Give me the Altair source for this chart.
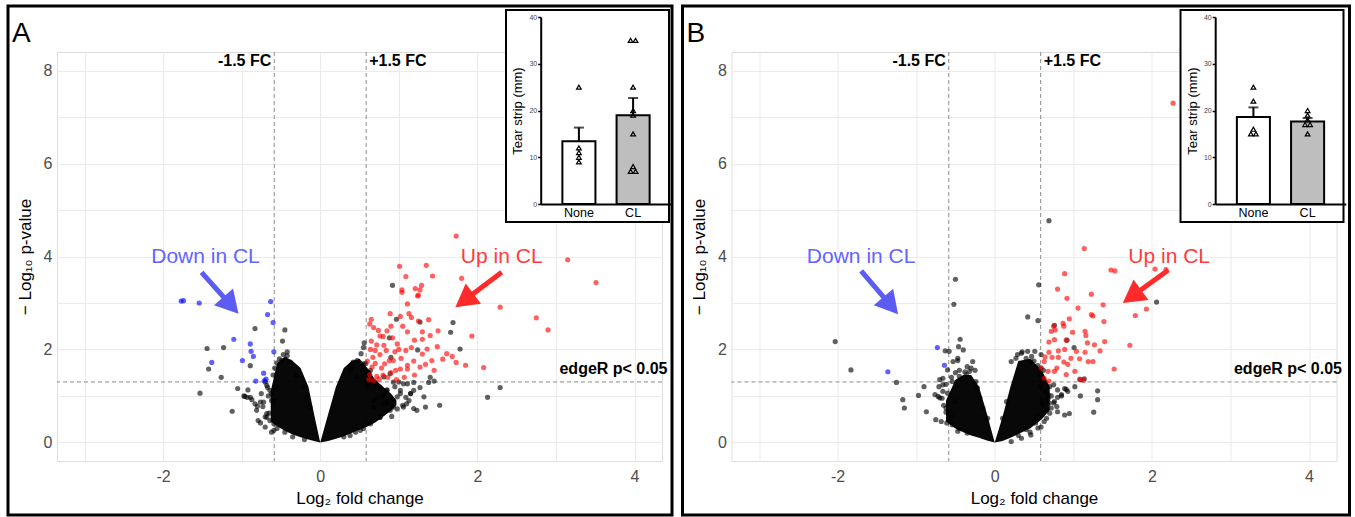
import math
import altair as alt
import pandas as pd

# ---------------- shared plot settings ----------------
W, H = 605, 409
XDOM = [-3.35, 4.35]
YDOM = [-0.4, 8.4]
FC_LINES = [-0.585, 0.585]
P_LINE = [1.301]
FONT = "Liberation Sans"

# ---------------- Panel A data ----------------
A_BLACK = [
    (-0.83, 2.45), (-0.45, 2.42), (-0.48, 2.18), (-1.44, 2.02), (-1.23, 2.04), (-1.42, 1.58),
    (-0.89, 1.65), (-1.26, 1.40), (-1.53, 1.06), (-1.05, 1.16), (-0.92, 1.13), (-1.12, 0.67),
    (-0.76, 0.42), (-0.96, 0.99), (-0.89, 0.97), (-0.76, 0.87), (-0.73, 0.77), (-0.65, 0.63),
    (-0.87, 0.92), (-0.47, 1.89), (-0.55, 1.71), (-0.64, 1.12), (-0.68, 1.23), (-0.83, 0.83),
    (-0.93, 0.97), (-0.97, 1.00), (-0.72, 0.87), (-0.68, 0.62), (-0.64, 0.47), (-0.67, 1.18),
    (-0.70, 1.30), (-0.81, 0.69), (-0.59, 0.26), (-0.60, 1.45), (-0.58, 1.60), (-0.52, 1.80),
    (-0.42, 1.95), (-0.62, 0.90), (-0.66, 1.00), (-0.75, 1.05), (-0.80, 0.78), (-0.70, 0.55),
    (-0.55, 0.30), (-0.45, 0.22), (-0.35, 0.12), (-0.20, 0.06),
    (-0.79, 0.47), (-0.70, 0.33), (-0.62, 0.22), (-0.68, 0.54), (-0.59, 0.40), (-0.62, 1.05),
    (-0.59, 0.90), (-0.57, 1.19), (-0.55, 1.48), (-0.49, 1.76), (-0.42, 1.87), (-0.38, 1.73),
    (-0.30, 1.44), (-0.21, 1.19), (-0.17, 0.97), (-0.13, 0.76),
    (0.92, 3.38), (1.69, 2.58), (1.66, 2.37), (1.78, 2.01), (1.27, 2.59), (0.97, 2.65),
    (0.88, 2.25), (0.90, 1.83), (1.24, 1.99), (2.29, 1.18), (2.13, 0.97), (1.52, 0.80),
    (1.34, 0.76), (1.19, 0.73), (1.13, 0.90), (1.27, 1.18), (1.40, 1.40), (1.45, 1.32),
    (1.38, 1.29), (1.19, 1.29), (1.11, 1.26), (0.91, 0.56), (0.76, 0.54), (0.56, 2.14),
    (0.55, 2.04), (0.89, 1.48), (0.40, 1.61), (0.47, 1.76), (0.52, 1.91), (0.85, 1.13),
    (1.02, 1.05), (1.09, 0.97), (0.93, 0.90), (0.68, 0.76), (0.60, 1.20), (0.70, 1.30),
    (0.75, 1.20), (0.80, 1.00), (0.85, 0.85), (0.95, 1.20), (1.00, 1.30), (0.65, 0.45),
    (0.55, 0.30), (0.45, 0.22), (0.30, 0.12), (0.72, 0.95), (0.62, 1.50), (0.58, 1.70),
    (1.05, 0.80), (1.15, 1.05), (0.98, 0.72),
    (0.38, 1.55), (0.47, 1.41), (0.59, 1.30), (0.72, 1.23), (0.85, 1.12), (0.98, 0.98),
    (1.10, 0.83), (1.23, 0.69), (0.89, 0.69), (0.76, 0.54), (0.64, 0.40), (0.51, 0.26),
    (0.38, 0.15), (1.06, 1.26), (1.19, 1.12), (1.32, 0.98), (0.81, 1.41), (0.93, 1.30),
    (0.64, 1.55), (0.55, 1.69), (0.42, 1.73), (1.06, 0.76), (0.68, 0.90), (0.81, 0.83),
    (0.93, 0.76), (1.15, 1.05), (1.02, 1.12),
]
A_RED = [
    (1.01, 3.79), (1.35, 3.81), (1.43, 3.58), (1.80, 3.53), (3.15, 3.93), (3.51, 3.44),
    (2.29, 2.91), (2.75, 2.68), (2.90, 2.42), (1.93, 2.29), (2.08, 1.61), (1.85, 1.66),
    (1.73, 1.72), (1.68, 1.85), (1.61, 1.91), (1.56, 1.79), (1.49, 2.06), (1.38, 2.64),
    (1.42, 1.76), (1.36, 2.01), (1.34, 1.68), (1.27, 1.62), (1.30, 2.38), (1.30, 2.22),
    (1.25, 2.61), (1.13, 2.77), (1.29, 3.38), (1.21, 3.31), (1.27, 3.28), (1.25, 3.17),
    (1.11, 2.98), (1.04, 3.23), (0.89, 2.77), (1.02, 2.71), (1.11, 2.38), (1.16, 2.04),
    (1.11, 1.66), (1.03, 1.81), (0.98, 2.12), (0.92, 2.25), (0.80, 2.28), (0.65, 2.65),
    (0.63, 2.55), (0.68, 2.47), (0.65, 2.18), (0.70, 1.98), (0.76, 1.89), (0.82, 1.69),
    (0.88, 1.76), (0.66, 1.62), (0.63, 1.46), (0.72, 1.42), (0.84, 1.98), (0.93, 1.76),
    (1.09, 1.98), (1.19, 1.75), (1.02, 1.58), (0.76, 2.29), (0.74, 2.41), (1.11, 1.58),
    (0.96, 1.55), (0.67, 1.83), (0.81, 2.09), (1.16, 2.69), (1.73, 4.44), (1.09, 3.57),
    (1.04, 3.28), (1.24, 3.15), (0.62, 1.35), (0.68, 1.33), (0.75, 1.36), (0.80, 1.45),
    (0.86, 1.40), (0.90, 1.50), (0.70, 1.70), (0.78, 1.60), (0.60, 1.75), (0.64, 2.00),
    (0.72, 2.10), (0.95, 1.95), (1.00, 2.00), (0.85, 2.40), (0.90, 2.50), (1.05, 2.50),
    (1.20, 2.20), (1.40, 2.30), (1.50, 2.40), (0.97, 1.35), (1.07, 1.40), (1.20, 1.45),
    (1.30, 1.90), (1.45, 1.55),
]
A_BLUE = [
    (-1.77, 3.04), (-1.74, 3.05), (-1.54, 3.00), (-0.63, 3.03), (-0.67, 2.75), (-0.60, 2.58),
    (-1.10, 2.22), (-0.89, 2.12), (-0.88, 1.96), (-0.85, 1.85), (-0.59, 1.95), (-1.38, 1.72),
    (-0.99, 1.76), (-0.72, 1.49), (-0.82, 1.32), (-0.71, 1.33), (-0.69, 1.36),
]
# dense core of the cloud (outline of the solid black V): x, lower, upper
A_CORE_L_X = [-0.63, -0.55, -0.45, -0.35, -0.25, -0.15, -0.08, 0.0]
A_CORE_L_LO = [0.45, 0.35, 0.25, 0.17, 0.11, 0.06, 0.03, 0.0]
A_CORE_L_HI = [1.10, 1.70, 1.85, 1.75, 1.60, 1.20, 0.62, 0.0]
A_CORE_R_X = [0.0, 0.1, 0.2, 0.3, 0.4, 0.5, 0.6, 0.7, 0.8, 0.9, 0.97]
A_CORE_R_LO = [0.0, 0.03, 0.08, 0.13, 0.20, 0.27, 0.34, 0.43, 0.55, 0.68, 0.80]
A_CORE_R_HI = [0.0, 0.60, 1.20, 1.60, 1.75, 1.80, 1.60, 1.35, 1.20, 1.05, 0.90]
A_TEXT_DOWN = (-1.46, 3.98)
A_TEXT_UP = (2.31, 3.98)
A_ARROW_DOWN = (-1.51, 3.66, -1.04, 2.77)
A_ARROW_UP = (2.31, 3.66, 1.72, 2.91)
A_INSET_NONE = [25, 12, 11, 10, 9]
A_INSET_CL = [35, 35, 25, 20, 19, 15, 8, 7, 7]

# ---------------- Panel B data ----------------
B_BLACK = [
    (-2.03, 2.17), (-1.83, 1.56), (-1.25, 1.29), (-1.17, 0.92), (-1.15, 0.74), (-0.97, 1.01),
    (-0.90, 1.20), (-0.87, 0.66), (-0.75, 0.49), (-0.68, 0.45), (-0.50, 3.51), (-0.52, 2.97),
    (-0.44, 2.22), (-0.46, 2.06), (-0.40, 1.99), (-0.58, 1.96), (-0.63, 1.97), (-0.53, 1.74),
    (-0.47, 1.76), (-0.60, 1.56), (-0.70, 1.35), (-0.71, 1.20), (-0.66, 1.10), (-0.72, 0.99),
    (-0.67, 0.95), (-0.58, 0.67), (-0.61, 0.42), (-0.28, 1.74), (-0.35, 1.63), (-0.76, 1.03),
    (-0.47, 1.81), (-0.55, 1.40), (-0.50, 1.50), (-0.62, 1.25), (-0.45, 1.55), (-0.38, 1.52),
    (-0.30, 1.60), (-0.65, 0.80), (-0.55, 0.55), (-0.45, 0.30), (-0.35, 0.20), (-0.62, 0.65),
    (-0.25, 1.55),
    (-0.66, 1.24), (-0.70, 0.96), (-0.62, 0.74), (-0.58, 0.52), (-0.54, 0.38), (-0.47, 0.24),
    (-0.66, 1.38), (-0.54, 1.31), (-0.45, 1.42), (-0.36, 1.46), (-0.32, 1.53), (-0.24, 1.31),
    (-0.22, 1.17), (-0.19, 0.96), (-0.15, 0.74), (-0.09, 0.52), (-0.60, 1.06), (-0.51, 0.88),
    (0.56, 3.39), (0.42, 2.70), (0.55, 2.62), (0.76, 2.52), (2.06, 3.02), (1.01, 2.04),
    (0.92, 2.20), (1.09, 1.35), (1.14, 1.37), (1.31, 1.11), (1.31, 0.92), (1.09, 1.00),
    (1.26, 0.65), (1.02, 1.20), (0.91, 1.14), (0.89, 1.16), (0.80, 0.97), (0.95, 0.62),
    (0.89, 0.59), (0.79, 0.77), (0.68, 0.95), (0.69, 0.85), (0.75, 1.24), (0.80, 1.13),
    (0.63, 0.45), (0.59, 0.33), (0.51, 0.48), (0.45, 0.22), (0.62, 1.30), (0.58, 1.46),
    (0.42, 1.96), (0.47, 1.85), (0.34, 1.92), (0.27, 1.81), (0.69, 4.77), (0.65, 1.10),
    (0.70, 1.20), (0.72, 1.00), (0.60, 0.90), (0.66, 0.70), (0.75, 0.85), (0.85, 1.00),
    (0.55, 1.65), (0.50, 1.75), (0.62, 1.55), (0.30, 0.15), (0.40, 0.28), (0.52, 0.42),
    (0.35, 1.95), (0.58, 1.20),
    (0.21, 1.74), (0.29, 1.89), (0.46, 1.74), (0.59, 1.60), (0.63, 1.31), (0.68, 1.03),
    (0.72, 0.74), (0.66, 0.52), (0.55, 0.31), (0.46, 0.16), (0.34, 0.09), (0.21, 0.02),
    (0.15, 0.88), (0.10, 0.52), (0.59, 1.89), (0.51, 1.96), (0.40, 1.81), (0.61, 0.81),
    (0.70, 0.63), (0.76, 0.88), (0.85, 1.03), (0.93, 1.10), (0.80, 0.66), (0.55, 0.59),
]
B_RED = [
    (0.89, 3.63), (0.80, 3.30), (0.92, 3.10), (1.23, 3.19), (1.48, 3.71), (1.53, 3.69),
    (1.38, 2.96), (1.23, 2.75), (1.25, 2.72), (1.06, 2.89), (1.79, 2.73), (1.93, 2.87),
    (1.39, 2.60), (0.87, 2.56), (0.88, 2.50), (0.77, 2.42), (0.72, 2.39), (0.99, 2.37),
    (1.15, 2.39), (1.16, 2.30), (1.40, 2.17), (1.72, 2.09), (1.18, 2.14), (1.27, 2.10),
    (1.34, 1.97), (1.15, 1.94), (1.52, 1.58), (0.91, 2.20), (0.76, 2.21), (0.69, 2.16),
    (0.81, 1.97), (0.89, 2.00), (0.69, 1.94), (0.64, 1.84), (0.73, 1.83), (0.81, 1.83),
    (0.97, 1.81), (1.04, 1.96), (1.08, 1.80), (1.25, 1.74), (1.19, 1.74), (0.88, 1.73),
    (0.93, 1.68), (0.79, 1.60), (0.59, 1.60), (0.63, 1.74), (0.68, 1.53), (0.76, 1.53),
    (0.91, 1.46), (0.63, 1.38), (1.13, 1.34), (1.08, 1.36), (1.02, 1.53), (0.69, 1.32),
    (2.27, 7.30), (1.14, 4.17), (2.04, 3.73), (2.18, 3.72), (0.75, 2.50), (0.95, 2.66),
]
B_BLUE = [(-0.73, 2.04), (-0.64, 1.66), (-1.36, 1.52)]
B_CORE_L_X = [-0.62, -0.5, -0.4, -0.3, -0.2, -0.1, 0.0]
B_CORE_L_LO = [0.45, 0.30, 0.22, 0.15, 0.10, 0.04, 0.0]
B_CORE_L_HI = [0.90, 1.35, 1.45, 1.45, 1.20, 0.62, 0.0]
B_CORE_R_X = [0.0, 0.1, 0.2, 0.3, 0.45, 0.6, 0.7]
B_CORE_R_LO = [0.0, 0.03, 0.10, 0.18, 0.30, 0.50, 0.70]
B_CORE_R_HI = [0.0, 0.55, 1.20, 1.75, 1.80, 1.55, 1.20]
B_TEXT_DOWN = (-1.70, 3.98)
B_TEXT_UP = (2.22, 3.98)
B_ARROW_DOWN = (-1.70, 3.69, -1.23, 2.76)
B_ARROW_UP = (2.21, 3.71, 1.63, 3.00)
B_INSET_NONE = [25, 22, 16, 15, 15]
B_INSET_CL = [20, 19, 18, 17, 17, 15]

GROUPS = ["None", "CL"]
HEAD = "M0,0 L-0.85,1.5 L0.85,1.5 Z"
BLUE_TXT, RED_TXT = "#6464FF", "#FF3B3B"
BLUE_ARR, RED_ARR = "#5C5CF2", "#FF2B2B"

SX = W / (XDOM[1] - XDOM[0])
SY = H / (YDOM[1] - YDOM[0])

# inset band geometry (pixel range inside the plot area)
IX_RANGE = [483.7, 614.3]
I_PAD_IN, I_PAD_OUT = 0.39, 0.40
I_STEP = (IX_RANGE[1] - IX_RANGE[0]) / (len(GROUPS) - I_PAD_IN + 2 * I_PAD_OUT)
I_BW = I_STEP * (1 - I_PAD_IN)


def arrow_frame(arrow):
    x1, y1, x2, y2 = arrow
    dxp = (x2 - x1) * SX
    dyp = -(y2 - y1) * SY
    L = math.hypot(dxp, dyp)
    ux, uy = dxp / L, dyp / L
    back = 14
    ex = x2 - back * ux / SX
    ey = y2 + back * uy / SY
    ang = math.degrees(math.atan2(dxp, -dyp)) % 360
    return pd.DataFrame({"x": [x1], "y": [y1], "ex": [ex], "ey": [ey],
                         "tx": [x2], "ty": [y2], "ang": [ang]})


def panel(letter, black, red, blue, core_l, core_r, t_down, t_up, a_down, a_up,
          inset_none, inset_cl, frame_right):
    xs = alt.Scale(domain=XDOM, nice=False, zero=False)
    ys = alt.Scale(domain=YDOM, nice=False, zero=False)
    xaxis = alt.Axis(values=list(range(-3, 5)),
                     labelExpr="datum.value % 2 == 0 ? toString(datum.value) : ''",
                     grid=True, gridColor="#EBEBEB", gridWidth=1, ticks=False, domain=False,
                     labelFontSize=16, labelColor="#4D4D4D", labelPadding=7,
                     title="Log₂ fold change", titleFontSize=17, titleFontWeight="normal",
                     titleColor="black", titlePadding=6, labelFont=FONT, titleFont=FONT)
    yaxis = alt.Axis(values=list(range(0, 9)),
                     labelExpr="datum.value % 2 == 0 ? toString(datum.value) : ''",
                     grid=True, gridColor="#EBEBEB", gridWidth=1, ticks=False, domain=False,
                     labelFontSize=16, labelColor="#4D4D4D", labelPadding=5,
                     minExtent=14, maxExtent=14,
                     title="− Log₁₀ p-value", titleFontSize=17, titleFontWeight="normal",
                     titleColor="black", titlePadding=9, labelFont=FONT, titleFont=FONT)

    def X(f):
        return alt.X(f + ":Q", scale=xs, axis=xaxis)

    def Y(f):
        return alt.Y(f + ":Q", scale=ys, axis=yaxis)

    pts = pd.DataFrame(
        [(x, y, "ns") for x, y in black]
        + [(x, y, "up") for x, y in red]
        + [(x, y, "down") for x, y in blue],
        columns=["x", "y", "cat"])
    core = pd.DataFrame(
        [(x, lo, hi, "L") for x, lo, hi in zip(*core_l)]
        + [(x, lo, hi, "R") for x, lo, hi in zip(*core_r)],
        columns=["x", "lo", "hi", "side"])

    one = pd.DataFrame({"a": [0]})
    dash = dict(color="#8C8C8C", strokeDash=[4, 3], strokeWidth=1)

    vrules = alt.Chart(pd.DataFrame({"x": FC_LINES})).mark_rule(**dash).encode(x=X("x"))
    hrule = alt.Chart(pd.DataFrame({"y": P_LINE})).mark_rule(**dash).encode(y=Y("y"))
    core_area = alt.Chart(core).mark_area(color="black", opacity=0.97).encode(
        x=X("x"), y=Y("hi"), y2=alt.Y2("lo"), detail="side:N")
    points = alt.Chart(pts).mark_circle(size=27, opacity=0.62).encode(
        x=X("x"), y=Y("y"),
        color=alt.Color("cat:N", scale=alt.Scale(domain=["ns", "up", "down"],
                                                 range=["#000000", "#FF0000", "#0000FF"]),
                        legend=None))

    bold = dict(fontWeight="bold", fontSize=16, color="black", baseline="middle", font=FONT)
    t_m = alt.Chart(pd.DataFrame({"x": [FC_LINES[0]], "y": [8.2], "t": ["-1.5 FC"]})).mark_text(
        align="right", dx=-3, **bold).encode(x=X("x"), y=Y("y"), text="t:N")
    t_p = alt.Chart(pd.DataFrame({"x": [FC_LINES[1]], "y": [8.2], "t": ["+1.5 FC"]})).mark_text(
        align="left", dx=3, **bold).encode(x=X("x"), y=Y("y"), text="t:N")
    t_e = alt.Chart(pd.DataFrame({"x": [4.42], "y": [1.57], "t": ["edgeR p< 0.05"]})).mark_text(
        align="right", **bold).encode(x=X("x"), y=Y("y"), text="t:N")

    big = dict(fontSize=21, align="center", baseline="middle", font=FONT)
    t_down = alt.Chart(pd.DataFrame({"x": [t_down[0]], "y": [t_down[1]], "t": ["Down in CL"]})).mark_text(
        color=BLUE_TXT, **big).encode(x=X("x"), y=Y("y"), text="t:N")
    t_up = alt.Chart(pd.DataFrame({"x": [t_up[0]], "y": [t_up[1]], "t": ["Up in CL"]})).mark_text(
        color=RED_TXT, **big).encode(x=X("x"), y=Y("y"), text="t:N")

    arrows = []
    for arr, col in ((a_down, BLUE_ARR), (a_up, RED_ARR)):
        df = arrow_frame(arr)
        arrows.append(alt.Chart(df).mark_rule(color=col, strokeWidth=5).encode(
            x=X("x"), y=Y("y"), x2=alt.X2("ex"), y2=alt.Y2("ey")))
        arrows.append(alt.Chart(df).mark_point(shape=HEAD, filled=True, size=900, opacity=1,
                                               color=col, strokeWidth=0).encode(
            x=X("tx"), y=Y("ty"), angle=alt.Angle("ang:Q", scale=None)))

    frame = alt.Chart(one).mark_rect(fillOpacity=0, stroke="black", strokeWidth=3).encode(
        x=alt.value(-49), x2=alt.value(frame_right), y=alt.value(-46), y2=alt.value(463))
    letter_t = alt.Chart(one).mark_text(text=letter, fontSize=28, align="left",
                                        baseline="alphabetic", color="black", font=FONT).encode(
        x=alt.value(-45), y=alt.value(-10))
    inset_box = alt.Chart(one).mark_rect(fill="white", stroke="black", strokeWidth=2).encode(
        x=alt.value(449), x2=alt.value(612), y=alt.value(-42), y2=alt.value(170))

    volcano = alt.layer(vrules, hrule, core_area, points, t_m, t_p, t_e, t_down, t_up,
                        *arrows, frame, letter_t, inset_box)

    # ---------------- inset bar chart ----------------
    idf = pd.DataFrame({"grp": ["None"] * len(inset_none) + ["CL"] * len(inset_cl),
                        "v": inset_none + inset_cl})
    ixs = alt.Scale(domain=GROUPS, range=IX_RANGE, paddingInner=I_PAD_IN, paddingOuter=I_PAD_OUT)
    iys = alt.Scale(domain=[0, 40], range=[152, -35], nice=False, zero=True)
    ixaxis = alt.Axis(orient="bottom", offset=-257, title=None, labelAngle=0, labelFontSize=12.5,
                      labelColor="black", labelPadding=2, domainColor="black", domainWidth=2,
                      ticks=False, grid=False, zindex=2, labelFont=FONT)
    iyaxis = alt.Axis(orient="left", offset=-483.7, title="Tear strip (mm)", titleFontSize=13,
                      titleFontWeight="normal", titleColor="black", titlePadding=4,
                      values=[0, 10, 20, 30, 40], labelFontSize=7, labelColor="#444444",
                      labelPadding=1, tickSize=3, tickColor="black", tickWidth=1.5,
                      domainColor="black", domainWidth=2, grid=False, zindex=2,
                      labelFont=FONT, titleFont=FONT)

    def IX():
        return alt.X("grp:N", scale=ixs, axis=ixaxis, sort=GROUPS)

    def IY(f):
        return alt.Y(f, scale=iys, axis=iyaxis)

    bars = alt.Chart(idf).mark_bar(stroke="black", strokeWidth=2).encode(
        x=IX(), y=IY("mean(v):Q"),
        fill=alt.Fill("grp:N", scale=alt.Scale(domain=GROUPS, range=["white", "#BEBEBE"]),
                      legend=None))
    summ = alt.Chart(idf).transform_aggregate(
        m="mean(v)", se="stderr(v)", groupby=["grp"]).transform_calculate(
        hi="datum.m + datum.se")
    err = summ.mark_rule(color="black", strokeWidth=2).encode(
        x=IX(), y=IY("m:Q"), y2=alt.Y2("hi"))
    cap = summ.mark_tick(color="black", thickness=2, size=10, orient="horizontal").encode(
        x=IX(), y=IY("hi:Q"))
    tri = alt.Chart(idf).transform_joinaggregate(
        cnt="count()", groupby=["grp", "v"]).transform_window(
        rk="row_number()", groupby=["grp", "v"]).transform_calculate(
        off=f"{I_BW / 2:.2f} + (datum.rk - (datum.cnt + 1) / 2) * 5").mark_point(
        shape="triangle-up", filled=False, color="black", size=22, strokeWidth=1.2, opacity=1).encode(
        x=IX(), xOffset=alt.XOffset("off:Q", scale=None), y=IY("v:Q"))

    inset = alt.layer(bars, err, cap, tri)

    return alt.layer(volcano, inset).resolve_scale(
        x="independent", y="independent").properties(width=W, height=H)


pA = panel("A", A_BLACK, A_RED, A_BLUE,
           (A_CORE_L_X, A_CORE_L_LO, A_CORE_L_HI), (A_CORE_R_X, A_CORE_R_LO, A_CORE_R_HI),
           A_TEXT_DOWN, A_TEXT_UP, A_ARROW_DOWN, A_ARROW_UP, A_INSET_NONE, A_INSET_CL, 615)
pB = panel("B", B_BLACK, B_RED, B_BLUE,
           (B_CORE_L_X, B_CORE_L_LO, B_CORE_L_HI), (B_CORE_R_X, B_CORE_R_LO, B_CORE_R_HI),
           B_TEXT_DOWN, B_TEXT_UP, B_ARROW_DOWN, B_ARROW_UP, B_INSET_NONE, B_INSET_CL, 618)

chart = alt.hconcat(pA, pB, spacing=6.5).properties(
    padding={"left": 6, "top": 4, "right": 0, "bottom": 0},
    background="white",
).configure_view(strokeWidth=0).configure(font=FONT)

chart.save("out.html", embed_options={"renderer": "svg", "actions": False})
